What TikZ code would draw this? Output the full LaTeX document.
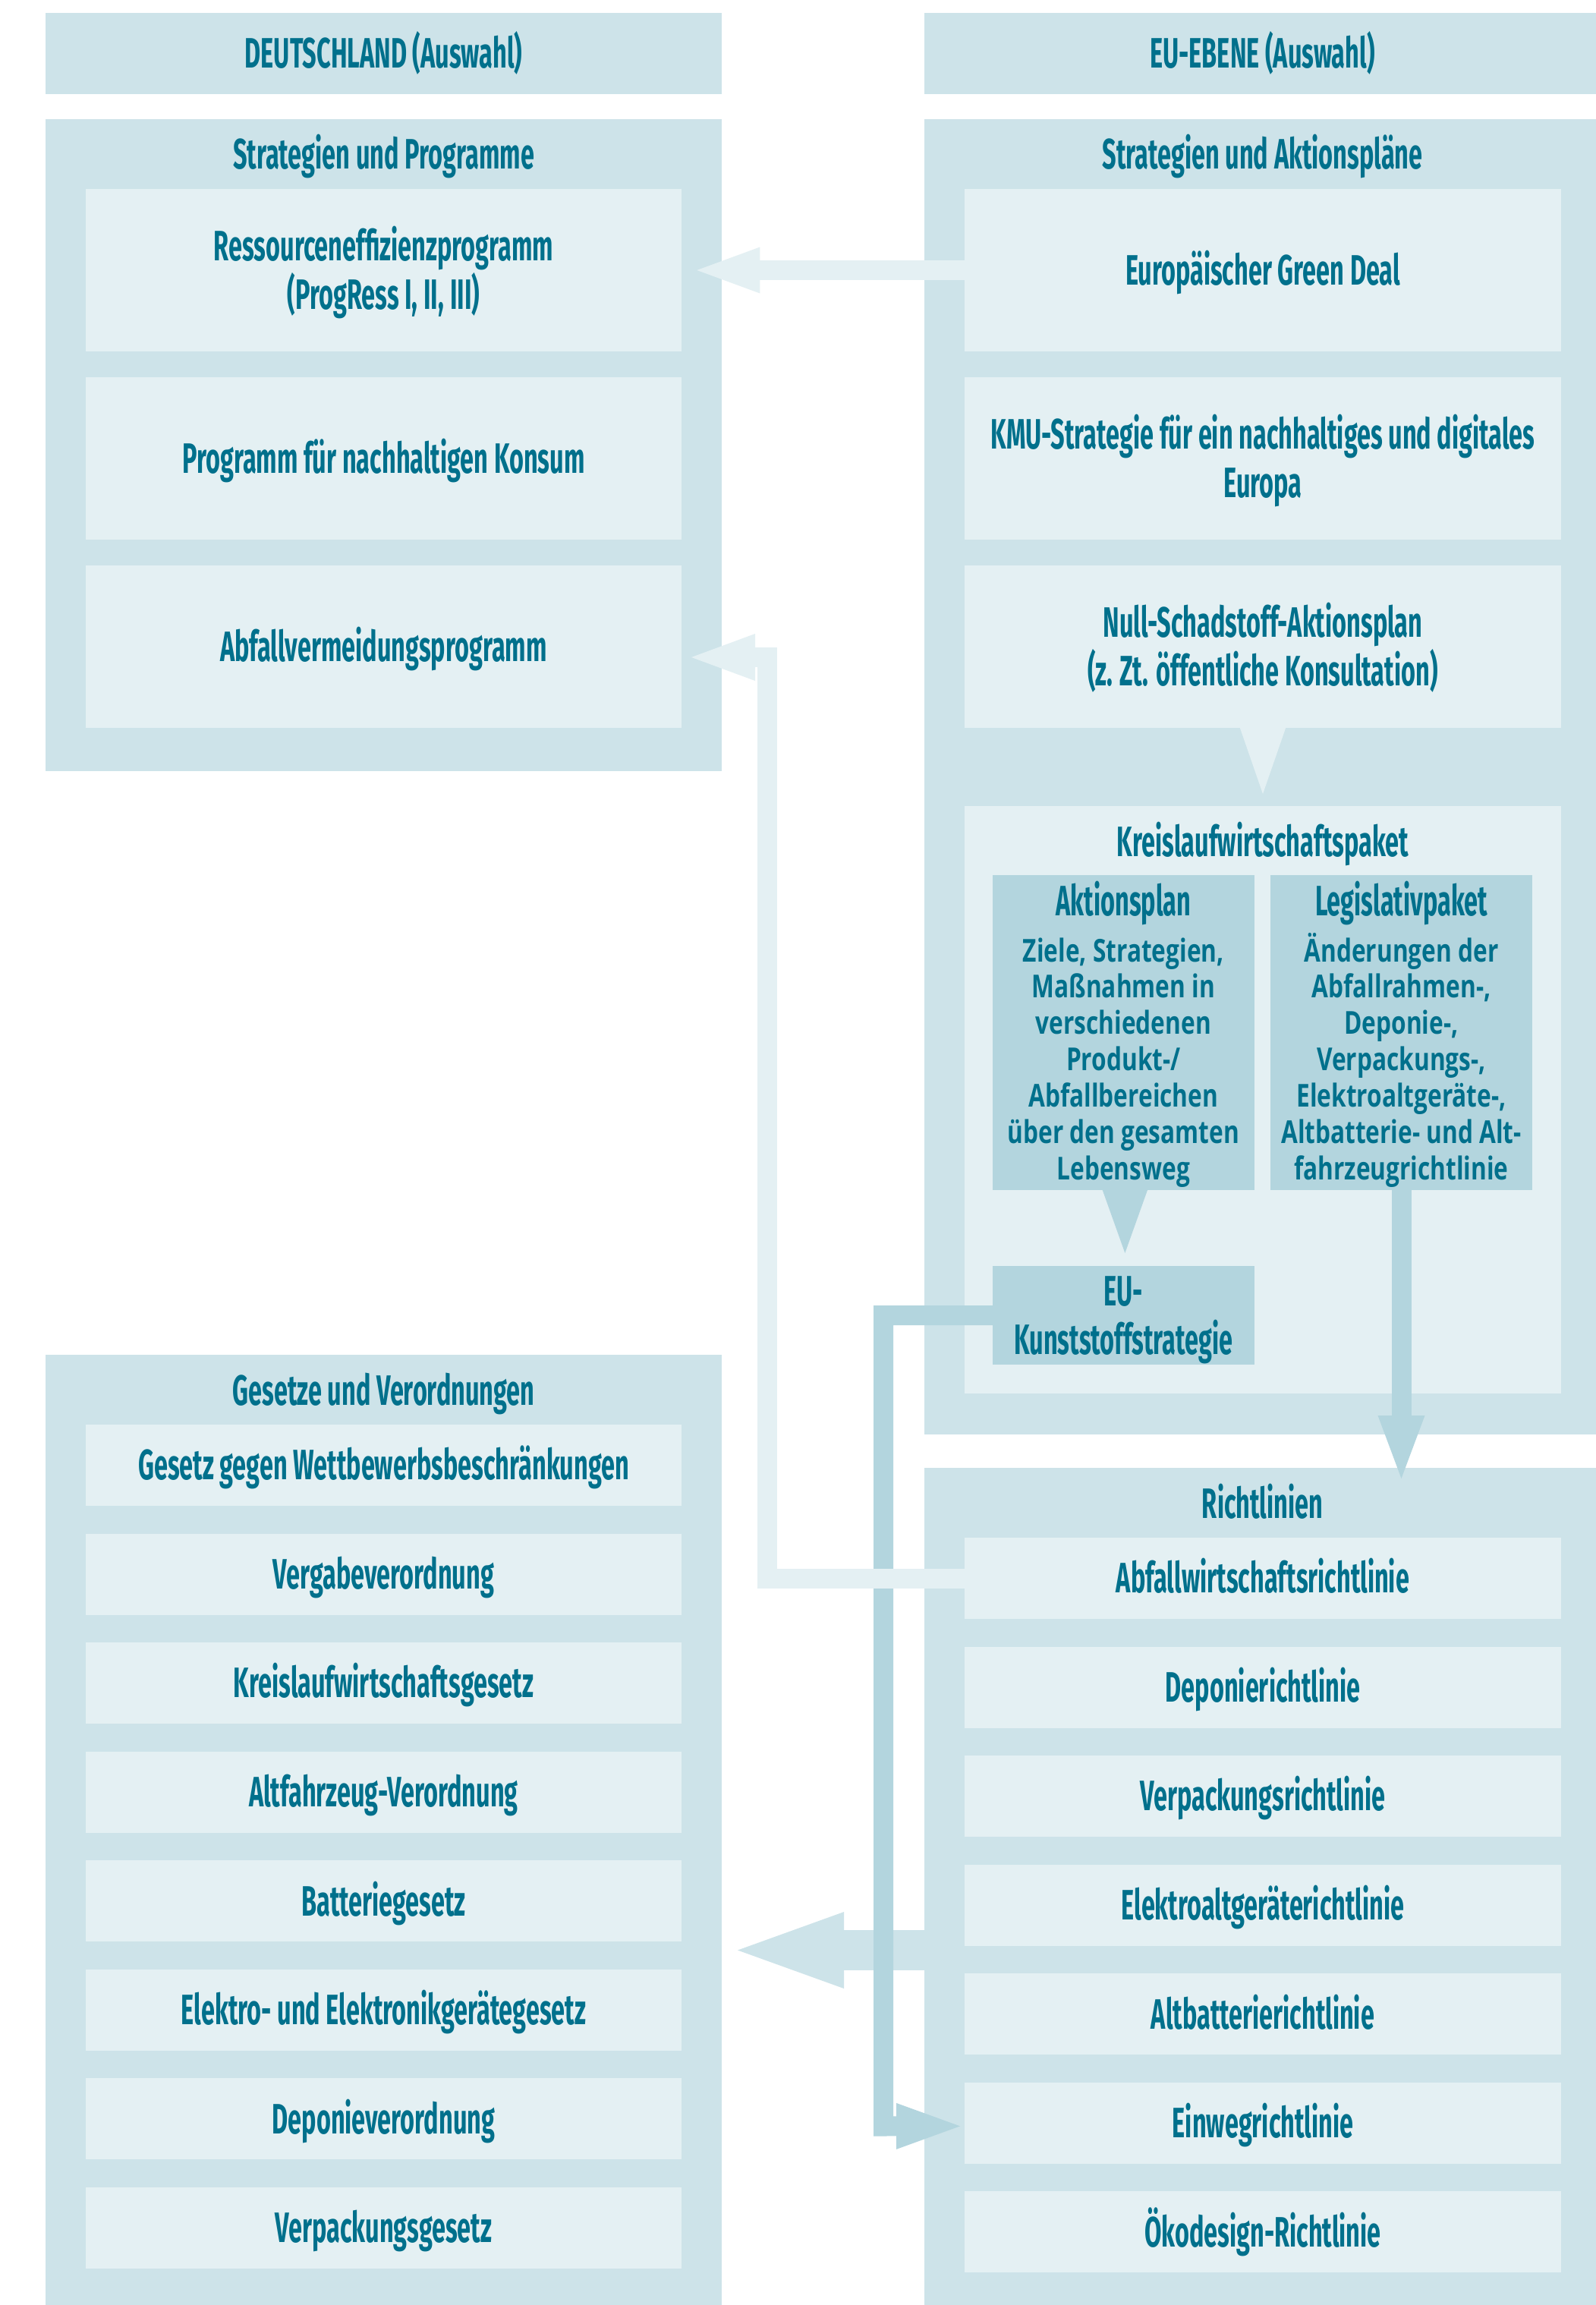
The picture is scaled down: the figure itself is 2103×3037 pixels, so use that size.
\documentclass[tikz,border=0pt]{standalone}
\usepackage{fontspec}
\setmainfont{Fira Sans}
\newfontfamily\condfont[FakeStretch=0.58]{Fira Sans}
\newfontfamily\bodyfont[FakeStretch=0.76]{Open Sans}
\usetikzlibrary{calc}
\definecolor{panelc}{HTML}{CDE3E9}
\definecolor{innerc}{HTML}{E4F0F3}
\definecolor{darkc}{HTML}{B3D5DE}
\definecolor{ink}{HTML}{00708C}
\newcommand\rbox[6]{\node[#1, minimum width={(#5)-(#3)}, minimum height={(#6)-(#4)}] (#2) at ({((#3)+(#5))/2},{((#4)+(#6))/2}) {};}
\tikzset{
  plainbox/.style={draw=none, inner sep=0pt, outer sep=0pt, rectangle},
  panelfill/.style={plainbox, fill=panelc},
  innerfill/.style={plainbox, fill=innerc},
  darkfill/.style={plainbox, fill=darkc},
  ctext/.style={font=\condfont\bfseries\fontsize{56}{64}\selectfont, text=ink, align=center, inner sep=0pt, anchor=base},
  btext/.style={font=\bodyfont\bfseries\fontsize{41.6}{47.9}\selectfont, text=ink, align=center, inner sep=0pt, anchor=base},
  shaft/.style={line width=26pt, line join=miter, line cap=butt},
}
\begin{document}
\begin{tikzpicture}[x=1pt,y=-1pt]
\fill[white] (0,0) rectangle (2103,3037);
\useasboundingbox (0,0) rectangle (2103,3037);

% headers and panels
\rbox{panelfill}{hdl}{60}{17}{951}{124}
\rbox{panelfill}{hdr}{1218}{17}{2103}{124}
\rbox{panelfill}{pl1}{60}{157}{951}{1016}
\rbox{panelfill}{pr1}{1218}{157}{2103}{1890}
\rbox{panelfill}{pl2}{60}{1785}{951}{3037}
\rbox{panelfill}{pr2}{1218}{1934}{2103}{3037}

\node[ctext] (hdlt) at ($(hdl.center)+(0,19.25)$) {DEUTSCHLAND (Auswahl)};
\node[ctext] (hdrt) at ($(hdr.center)+(3,19.25)$) {EU-EBENE (Auswahl)};
\node[ctext] (pl1t) at ($(pl1.north)+(0,66)$) {Strategien und Programme};
\node[ctext] (pr1t) at ($(pr1.north)+(3,66)$) {Strategien und Aktionspläne};
\node[ctext] (pl2t) at ($(pl2.north)+(0,66)$) {Gesetze und Verordnungen};
\node[ctext] (pr2t) at ($(pr2.north)+(3,66)$) {Richtlinien};

% left strategy boxes
\rbox{innerfill}{res}{112.7}{249}{898.3}{463}
\rbox{innerfill}{kon}{112.7}{497}{898.3}{711}
\rbox{innerfill}{avp}{112.7}{745}{898.3}{959}
\node[ctext] (rest) at ($(res.center)+(0,51.25)$) {Ressourceneffizienzprogramm\\(ProgRess I, II, III)};
\node[ctext] (kont) at ($(kon.center)+(0,19.25)$) {Programm für nachhaltigen Konsum};
\node[ctext] (avpt) at ($(avp.center)+(0,19.25)$) {Abfallvermeidungsprogramm};

% right strategy boxes
\rbox{innerfill}{gd}{1271}{249}{2057}{463}
\rbox{innerfill}{kmu}{1271}{497}{2057}{711}
\rbox{innerfill}{null}{1271}{745}{2057}{959}
\node[ctext] (gdt) at ($(gd.center)+(0,19.25)$) {Europäischer Green Deal};
\node[ctext] (kmut) at ($(kmu.center)+(0,51.25)$) {KMU-Strategie für ein nachhaltiges und digitales\\Europa};
\node[ctext] (nullt) at ($(null.center)+(0,51.25)$) {Null-Schadstoff-Aktionsplan\\(z.\,Zt. öffentliche Konsultation)};
\fill[innerc] ($(null.south)+(-30.5,-1)$) -- ($(null.south)+(30.5,-1)$) -- ($(null.south)+(0,87)$) -- cycle;

% Kreislaufwirtschaftspaket
\rbox{innerfill}{kwp}{1271}{1062}{2057}{1836}
\node[ctext] (kwpt) at ($(kwp.north)+(0,66)$) {Kreislaufwirtschaftspaket};
\rbox{darkfill}{akt}{1308}{1153}{1652.7}{1568}
\rbox{darkfill}{leg}{1674}{1153}{2019}{1568}
\rbox{darkfill}{kst}{1308}{1668}{1652.7}{1798}
\node[ctext] (aktt) at ($(akt.north)+(0,53)$) {Aktionsplan};
\node[btext] (aktb) at ($(akt.north)+(0,401.4)$) {Ziele, Strategien,\\Maßnahmen in\\verschiedenen\\Produkt-/\\Abfallbereichen\\über den gesamten\\Lebensweg};
\node[ctext] (legt) at ($(leg.north)+(0,53)$) {Legislativpaket};
\node[btext] (legb) at ($(leg.north)+(0,401.4)$) {Änderungen der\\Abfallrahmen-,\\Deponie-,\\Verpackungs-,\\Elektroaltgeräte-,\\Altbatterie- und Alt-\\fahrzeugrichtlinie};
\fill[darkc] ($(akt.south)+(-28,-1)$) -- ($(akt.south)+(32,-1)$) -- ($(akt.south)+(2,83)$) -- cycle;
\node[ctext] (kstt) at ($(kst.center)+(0,51.25)$) {EU-\\Kunststoffstrategie};

% Gesetze
\foreach \txt [count=\i] in {Gesetz gegen Wettbewerbsbeschränkungen, Vergabeverordnung, Kreislaufwirtschaftsgesetz, Altfahrzeug-Verordnung, Batteriegesetz, Elektro- und Elektronikgerätegesetz, Deponieverordnung, Verpackungsgesetz} {
  \pgfmathsetmacro\ytop{1877+(\i-1)*143.57}
  \rbox{innerfill}{g\i}{112.7}{\ytop}{898.3}{\ytop+107}
  \node[ctext] (gt\i) at ($(g\i.center)+(0,19.25)$) {\txt};
}
% Richtlinien
\foreach \txt [count=\i] in {Abfallwirtschaftsrichtlinie, Deponierichtlinie, Verpackungsrichtlinie, Elektroaltgeräterichtlinie, Altbatterierichtlinie, Einwegrichtlinie, Ökodesign-Richtlinie} {
  \pgfmathsetmacro\ytop{2026+(\i-1)*143.57}
  \rbox{innerfill}{r\i}{1271}{\ytop}{2057}{\ytop+107}
  \node[ctext] (rt\i) at ($(r\i.center)+(0,19.25)$) {\txt};
}

% connectors
% Richtlinien -> Gesetze (panel colour)
\coordinate (s5) at ($(pr2.west |- r4.south)+(0,5.8)$);
\coordinate (tip5) at ($(pl2.east |- s5)+(21,0)$);
\draw[line width=53pt, panelc] (s5) -- ($(tip5)+(139,0)$);
\fill[panelc] (tip5) -- ++(140,-50.5) -- ++(0,101) -- cycle;

% EU-Kunststoffstrategie -> Einwegrichtlinie
\coordinate (bend4) at ($(kst.west)+(-144,1068.5)$);
\coordinate (tip4) at ($(r6.west)+(-6,4)$);
\draw[shaft, darkc] (kst.west) -| (bend4) -- ($(tip4)+(-83,0)$);
\fill[darkc] (tip4) -- ++(-84,-30.5) -- ++(0,61) -- cycle;

% Legislativpaket -> Richtlinien
\coordinate (tip3) at ($(leg.south |- pr2.north)+(0,14)$);
\draw[shaft, darkc] (leg.south) -- ($(tip3)+(0,-82)$);
\fill[darkc] (tip3) -- ++(-31,-83) -- ++(62,0) -- cycle;

% Abfallwirtschaftsrichtlinie -> Abfallvermeidungsprogramm
\coordinate (tip2) at ($(avp.east)+(12.7,14)$);
\coordinate (bend2) at ($(tip2)+(100,0)$);
\draw[shaft, innerc] (r1.west) -| (bend2) -- ($(tip2)+(83,0)$);
\fill[innerc] (tip2) -- ++(84,-31) -- ++(0,62) -- cycle;

% Europaeischer Green Deal -> Ressourceneffizienzprogramm
\coordinate (tip1) at ($(res.east)+(20,0)$);
\draw[shaft, innerc] (gd.west) -- ($(tip1)+(82,0)$);
\fill[innerc] (tip1) -- ++(83,-30.5) -- ++(0,61) -- cycle;
\end{tikzpicture}
\end{document}
